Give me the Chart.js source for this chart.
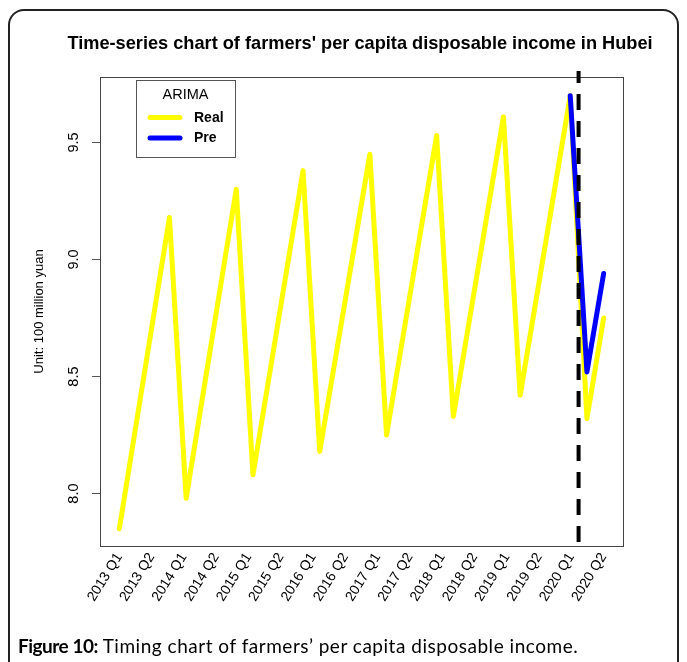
<!DOCTYPE html>
<html>
<head>
<meta charset="utf-8">
<script src="https://cdn.jsdelivr.net/npm/chart.js@4.4.1/dist/chart.umd.min.js"></script>
<style>
html,body{margin:0;padding:0;background:#fff;}
#wrap{position:relative;width:687px;height:662px;overflow:hidden;background:#fff;}
#frame{position:absolute;left:8px;top:9px;width:671px;height:720px;border:2px solid #222;border-radius:16px;box-sizing:border-box;}
#chartBox{position:absolute;left:0;top:0;width:687px;height:662px;}
#title{position:absolute;left:0;width:720px;top:33px;line-height:20px;text-align:center;font:bold 18.2px "Liberation Sans",Arial,sans-serif;color:#000;white-space:nowrap;}
#caption{position:absolute;left:18px;top:634px;line-height:22px;font:19px Lato,"Open Sans",sans-serif;letter-spacing:0.52px;color:#000;white-space:nowrap;}
#caption b{letter-spacing:-0.5px;}
</style>
</head>
<body>
<div id="wrap">
  <div id="frame"></div>
  <div id="chartBox"><canvas id="c" width="687" height="662"></canvas></div>
  <div id="title">Time-series chart of farmers' per capita disposable income in Hubei</div>
  <div id="caption"><b>Figure 10:</b> Timing chart of farmers’ per capita disposable income.</div>
</div>
<script>
// ---- data ----
const quarterLabels = ["2013 Q1","2013 Q2","2014 Q1","2014 Q2","2015 Q1","2015 Q2","2016 Q1","2016 Q2",
                       "2017 Q1","2017 Q2","2018 Q1","2018 Q2","2019 Q1","2019 Q2","2020 Q1","2020 Q2"];
const lastQuarterIndex = 29;            // 2013 Q1 = 0 ... 2020 Q2 = 29
const realQuarter = [0, 3, 4, 7, 8, 11, 12, 15, 16, 19, 20, 23, 24, 27, 28, 29];
const realValue   = [7.85, 9.18, 7.98, 9.30, 8.08, 9.38, 8.18, 9.45, 8.25, 9.53, 8.33, 9.61, 8.42, 9.70, 8.32, 8.75];
const preQuarter  = [27, 28, 29];
const preValue    = [9.70, 8.52, 8.94];
const yTickValues = [8.0, 8.5, 9.0, 9.5];
const forecastStart = 27.5;
const legendTitle = "ARIMA";
const yAxisTitle = "Unit: 100 million yuan";

const labelPositions = quarterLabels.map((_, i) => lastQuarterIndex * i / (quarterLabels.length - 1));

const FONT = "'Liberation Sans', Arial, sans-serif";

const framePlugin = {
  id: 'frameBox',
  beforeDatasetsDraw(chart) {
    const {ctx, chartArea: a} = chart;
    ctx.save();
    ctx.strokeStyle = '#444';
    ctx.lineWidth = 1;
    ctx.strokeRect(Math.round(a.left) + 0.5, Math.round(a.top) + 0.5, Math.round(a.right - a.left), Math.round(a.bottom - a.top));
    ctx.restore();
  }
};

const forecastLinePlugin = {
  id: 'forecastLine',
  afterDatasetsDraw(chart) {
    const {ctx, chartArea: a} = chart;
    const x = chart.scales.x.getPixelForValue(forecastStart);
    ctx.save();
    ctx.strokeStyle = '#000';
    ctx.lineWidth = 4;
    ctx.setLineDash([16, 11]);
    ctx.beginPath();
    ctx.moveTo(x, a.bottom - 4);
    ctx.lineTo(x, a.top - 6);
    ctx.stroke();
    ctx.restore();
  }
};

const legendPlugin = {
  id: 'insetLegend',
  afterDraw(chart) {
    const {ctx, chartArea: a} = chart;
    const left = a.left + 36, top = a.top + 2.5, w = 99, h = 77;
    ctx.save();
    ctx.fillStyle = '#fff';
    ctx.fillRect(left, top, w, h);
    ctx.strokeStyle = '#555';
    ctx.lineWidth = 1;
    ctx.strokeRect(Math.round(left) + 0.5, Math.round(top) + 0.5, w, h);
    ctx.fillStyle = '#000';
    ctx.textBaseline = 'middle';
    ctx.textAlign = 'center';
    ctx.font = "14.5px " + FONT;
    ctx.fillText(legendTitle, left + w / 2, top + 15);
    chart.data.datasets.forEach((d, i) => {
      const y = top + 38 + i * 20.5;
      ctx.strokeStyle = d.borderColor;
      ctx.lineWidth = 5;
      ctx.lineCap = 'round';
      ctx.beginPath();
      ctx.moveTo(left + 14, y);
      ctx.lineTo(left + 44, y);
      ctx.stroke();
      ctx.fillStyle = '#000';
      ctx.textAlign = 'left';
      ctx.font = "bold 14px " + FONT;
      ctx.fillText(d.label, left + 58, y + 0.5);
    });
    ctx.restore();
  }
};

new Chart(document.getElementById('c'), {
  type: 'line',
  data: {
    datasets: [
      {
        label: 'Real',
        data: realQuarter.map((q, i) => ({x: q, y: realValue[i]})),
        borderColor: '#FFFF00',
        borderWidth: 5,
        pointRadius: 0,
        tension: 0,
        borderJoinStyle: 'round',
        borderCapStyle: 'round',
        order: 2
      },
      {
        label: 'Pre',
        data: preQuarter.map((q, i) => ({x: q, y: preValue[i]})),
        borderColor: '#0000FF',
        borderWidth: 5,
        pointRadius: 0,
        tension: 0,
        borderJoinStyle: 'round',
        borderCapStyle: 'round',
        order: 1
      }
    ]
  },
  options: {
    responsive: false,
    animation: false,
    devicePixelRatio: 1,
    events: [],
    layout: {padding: {left: 0, right: 64, top: 77, bottom: 0}},
    plugins: {legend: {display: false}, tooltip: {enabled: false}, title: {display: false}},
    scales: {
      x: {
        type: 'linear',
        min: -1.16,
        max: 30.16,
        afterBuildTicks(scale) { scale.ticks = labelPositions.map(v => ({value: v})); },
        afterFit(scale) { scale.height = 116; },
        grid: {display: false},
        border: {display: false},
        ticks: {
          autoSkip: false,
          minRotation: 58,
          maxRotation: 58,
          padding: -4,
          color: '#000',
          font: {family: FONT, size: 14},
          callback: (v, i) => quarterLabels[i]
        }
      },
      y: {
        type: 'linear',
        min: 7.776,
        max: 9.78,
        afterBuildTicks(scale) { scale.ticks = yTickValues.map(v => ({value: v})); },
        afterFit(scale) { scale.width = 100; },
        grid: {display: true, drawOnChartArea: false, drawTicks: true, tickLength: 8, color: '#555', lineWidth: 1},
        border: {display: false},
        title: {display: true, text: yAxisTitle, color: '#000', font: {family: FONT, size: 13}, padding: {top: 32, bottom: 0}},
        ticks: {
          minRotation: 90,
          maxRotation: 90,
          crossAlign: 'center',
          padding: 8,
          color: '#000',
          font: {family: FONT, size: 14.5},
          callback: v => v.toFixed(1)
        }
      }
    }
  },
  plugins: [framePlugin, forecastLinePlugin, legendPlugin]
});
</script>
</body>
</html>
